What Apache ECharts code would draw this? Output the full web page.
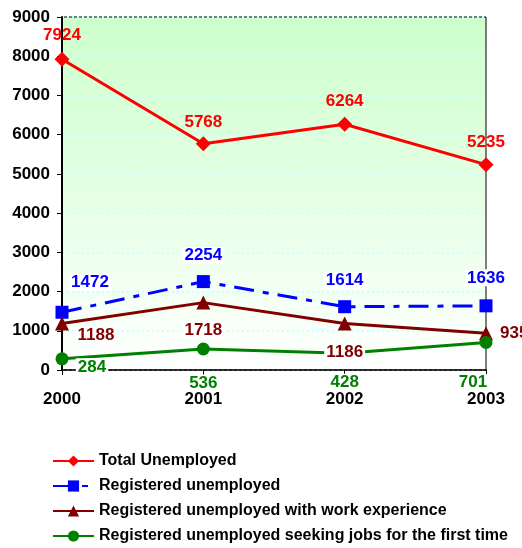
<!DOCTYPE html>
<html>
<head>
<meta charset="utf-8">
<script src="https://cdn.jsdelivr.net/npm/echarts@6/dist/echarts.min.js"></script>
<style>
  html, body { margin: 0; padding: 0; background: #fff; }
  #chart { width: 522px; height: 548px; }
</style>
</head>
<body>
<div id="chart"></div>
<script>
// 数据
var years = ['2000', '2001', '2002', '2003'];
var totalUnemployed = [7924, 5768, 6264, 5235];
var registered = [1472, 2254, 1614, 1636];
var withExperience = [1188, 1718, 1186, 935];
var firstTime = [284, 536, 428, 701];
var yTicks = [0, 1000, 2000, 3000, 4000, 5000, 6000, 7000, 8000, 9000];

// 标签位置 (每个点)
var totalLabelPos = [['top', [0, -3]], ['top', [0, 0]], ['top', [0, -2]], ['top', [0, -1]]];
var regLabelPos = [['top', [28, -10]], ['top', [0, -6]], ['top', [0, -6]], ['top', [0, -8]]];
var expLabelPos = [['bottom', [34, -9]], ['bottom', [0, 7]], ['bottom', [0, 8]], ['right', [0, 0]]];
var firstLabelPos = [['bottom', [30, -12]], ['bottom', [0, 14]], ['bottom', [0, 9]], ['bottom', [-13, 20]]];

var font = 'Arial, "Liberation Sans", sans-serif';

function withLabels(values, posList, color, bg) {
  return values.map(function (v, i) {
    return {
      value: v,
      label: {
        show: true,
        position: posList[i][0],
        offset: posList[i][1],
        color: color,
        fontWeight: 'bold',
        fontSize: 17,
        fontFamily: font,
        backgroundColor: bg,
        padding: [0, 2]
      }
    }
  })
}

function lineSeries(name, values, color, symbol, size, posList, bg, lineType) {
  return {
    name: name,
    type: 'line',
    data: withLabels(values, posList, color, bg),
    symbol: symbol,
    symbolSize: size,
    itemStyle: { color: color },
    lineStyle: { color: color, width: 3, type: lineType || 'solid' },
    emphasis: { disabled: true },
    animation: false
  }
}

var chart = echarts.init(document.getElementById('chart'))
chart.setOption({
  animation: false,
  grid: {
    left: 62,
    right: 36,
    top: 17,
    bottom: 178,
    show: true,
    borderColor: '#000',
    borderWidth: 1,
    backgroundColor: new echarts.graphic.LinearGradient(0, 0, 0, 1, [
      { offset: 0, color: '#ccffcc' },
      { offset: 1, color: '#ffffff' }
    ])
  },
  legend: {
    orient: 'vertical',
    left: 47,
    top: 448,
    height: 110,
    itemWidth: 41,
    itemHeight: 14,
    itemGap: 9,
    textStyle: { fontFamily: font, fontWeight: 'bold', fontSize: 16, color: '#000' },
    data: ['Total Unemployed', 'Registered unemployed',
      'Registered unemployed with work experience',
      'Registered unemployed seeking jobs for the first time']
  },
  xAxis: {
    type: 'category',
    data: years,
    boundaryGap: false,
    axisLine: { lineStyle: { color: '#000', width: 1.5 } },
    axisTick: { show: true, length: 5, lineStyle: { color: '#000' } },
    axisLabel: { color: '#000', fontWeight: 'bold', fontSize: 17, fontFamily: font, margin: 21 }
  },
  yAxis: {
    type: 'value',
    min: yTicks[0],
    max: yTicks[yTicks.length - 1],
    interval: 1000,
    axisLine: { show: true, lineStyle: { color: '#000', width: 2 } },
    axisTick: { show: true, length: 5, lineStyle: { color: '#000' } },
    axisLabel: {
      color: '#000', fontWeight: 'bold', fontSize: 17, fontFamily: font, margin: 12,
      formatter: function (v) { return String(v) }
    },
    splitLine: { show: true, lineStyle: { color: '#ccffff', width: 2, type: [2, 3] } }
  },
  series: [
    lineSeries('Total Unemployed', totalUnemployed, '#ff0000', 'diamond', 15, totalLabelPos, null),
    lineSeries('Registered unemployed', registered, '#0000ff', 'rect', 13, regLabelPos, '#fff', [20, 9, 6, 9]),
    lineSeries('Registered unemployed with work experience', withExperience, '#800000', 'triangle', 14, expLabelPos, '#fff'),
    lineSeries('Registered unemployed seeking jobs for the first time', firstTime, '#008000', 'circle', 13, firstLabelPos, '#fff')
  ]
})
</script>
</body>
</html>
